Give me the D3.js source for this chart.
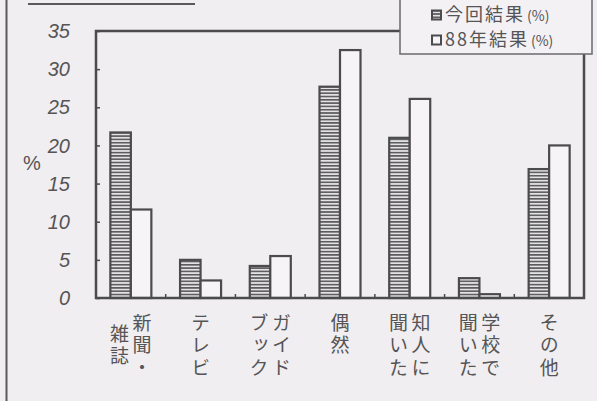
<!DOCTYPE html>
<html lang="ja">
<head>
<meta charset="utf-8">
<script src="https://cdn.jsdelivr.net/npm/d3@7"></script>
<style>
  html, body { margin: 0; padding: 0; background: #f0eef0; }
  svg { display: block; }
</style>
</head>
<body>
<svg id="chart" width="597" height="401"></svg>
<script>
// Category labels: each entry is a list of vertical columns, read right to left
const categories = ["新聞・雑誌", "テレビ", "ガイドブック", "偶然", "知人に聞いた", "学校で聞いた", "その他"];
const categoryColumns = [
  ["新聞・", "雑誌"],
  ["テレビ"],
  ["ガイド", "ブック"],
  ["偶然"],
  ["知人に", "聞いた"],
  ["学校で", "聞いた"],
  ["その他"]
];
const seriesNames = ["今回結果", "88年結果"];
const currentValues = [21.7, 5.0, 4.2, 27.7, 21.0, 2.6, 16.9];
const values1988 = [11.6, 2.3, 5.5, 32.5, 26.1, 0.5, 20.0];
const yTicks = [0, 5, 10, 15, 20, 25, 30, 35];

const ink = "#4b4a4c";
const textInk = "#555456";
const bg = "#f0eef0";

const svg = d3.select("#chart");
svg.append("rect").attr("width", 597).attr("height", 401).attr("fill", bg);

// horizontal stripe fill for the current-survey bars
const defs = svg.append("defs");
const pat = defs.append("pattern")
  .attr("id", "stripes")
  .attr("patternUnits", "userSpaceOnUse")
  .attr("width", 6).attr("height", 3.3);
pat.append("rect").attr("width", 6).attr("height", 3.3).attr("fill", "#e4e2e4");
pat.append("rect").attr("y", 0).attr("width", 6).attr("height", 1.6).attr("fill", "#5a595b");

const plot = { left: 96, right: 584, top: 31, bottom: 298 };

const x = d3.scaleBand().domain(categories).range([plot.left, plot.right]).padding(0);
const xs = d3.scaleBand().domain(seriesNames).range([0, x.bandwidth()]).paddingInner(0).paddingOuter(0.7);
const y = d3.scaleLinear().domain([0, 35]).range([plot.bottom, plot.top]);

// page frame line on the left and the clipped title underline
svg.append("line").attr("x1", 6.5).attr("x2", 6.5).attr("y1", 0).attr("y2", 401)
  .attr("stroke", "#5a595b").attr("stroke-width", 2);
svg.append("line").attr("x1", 28).attr("x2", 195).attr("y1", 4).attr("y2", 4)
  .attr("stroke", "#5a595b").attr("stroke-width", 2);

// bars
const rows = categories.map((c, i) => ({ cat: c, v: [currentValues[i], values1988[i]] }));
const g = svg.append("g");
rows.forEach(r => {
  seriesNames.forEach((s, j) => {
    g.append("rect")
      .attr("x", x(r.cat) + xs(s))
      .attr("y", y(r.v[j]))
      .attr("width", xs.bandwidth())
      .attr("height", y(0) - y(r.v[j]))
      .attr("fill", j === 0 ? "url(#stripes)" : "#f6f4f6")
      .attr("stroke", ink)
      .attr("stroke-width", 2.2);
  });
});

// plot frame
svg.append("rect")
  .attr("x", plot.left).attr("y", plot.top)
  .attr("width", plot.right - plot.left).attr("height", plot.bottom - plot.top)
  .attr("fill", "none").attr("stroke", ink).attr("stroke-width", 2.5);

// inner ticks: y ticks on the left edge, category separators on the bottom edge
const yAxis = d3.axisLeft(y).tickValues(yTicks).tickSize(-4).tickFormat("");
const ya = svg.append("g").attr("transform", `translate(${plot.left},0)`).call(yAxis);
ya.select(".domain").remove();
ya.selectAll("line").attr("stroke", ink).attr("stroke-width", 1.5);

const bounds = categories.slice(1).map(c => x(c));
svg.append("g").selectAll("line").data(bounds).join("line")
  .attr("x1", d => d).attr("x2", d => d)
  .attr("y1", plot.bottom).attr("y2", plot.bottom - 4)
  .attr("stroke", ink).attr("stroke-width", 1.5);

// y tick labels
svg.append("g").selectAll("text").data(yTicks).join("text")
  .attr("x", 70).attr("y", d => y(d))
  .attr("dy", "0.36em")
  .attr("text-anchor", "end")
  .attr("font-family", "Liberation Sans, Arial, sans-serif")
  .attr("font-style", "italic")
  .attr("font-size", 20)
  .attr("fill", textInk)
  .text(d => d);

svg.append("text")
  .attr("x", 32).attr("y", 163).attr("dy", "0.36em")
  .attr("text-anchor", "middle")
  .attr("font-family", "Liberation Sans, Arial, sans-serif")
  .attr("font-size", 20)
  .attr("fill", textInk)
  .text("%");

// vertical category labels, one vertical text run per column
const jpFont = "Noto Sans CJK JP, sans-serif";
const fontSize = 19, pitch = 22.5, colGap = 22.5, firstTop = 313;
categoryColumns.forEach((cols, i) => {
  const cx = x(categories[i]) + x.bandwidth() / 2;
  const longest = d3.max(cols, c => c.length);
  cols.forEach((col, k) => {
    const colX = cx + (cols.length - 1) * colGap / 2 - k * colGap;
    const off = (longest - col.length) * pitch / 2;
    svg.append("text")
      .attr("x", colX).attr("y", firstTop + off)
      .style("writing-mode", "vertical-rl")
      .style("text-orientation", "upright")
      .attr("letter-spacing", pitch - fontSize)
      .attr("font-family", jpFont)
      .attr("font-size", fontSize)
      .attr("fill", textInk)
      .text(col);
  });
});

// legend
const lg = svg.append("g");
lg.append("rect").attr("x", 400).attr("y", -6).attr("width", 192).attr("height", 60)
  .attr("fill", "#f3f1f3").attr("stroke", "#6a696b").attr("stroke-width", 1.5);
const legendRows = [15, 40];
seriesNames.forEach((s, j) => {
  const ly = legendRows[j];
  lg.append("rect").attr("x", 432).attr("y", ly - 4.5).attr("width", 9).attr("height", 9)
    .attr("fill", j === 0 ? "url(#stripes)" : "#f6f4f6")
    .attr("stroke", ink).attr("stroke-width", 2);
  const t = lg.append("text").attr("x", 445).attr("y", ly).attr("dy", "0.36em")
    .attr("font-family", jpFont).attr("fill", textInk);
  t.append("tspan").attr("font-size", 18).attr("letter-spacing", 2).text(s);
  t.append("tspan").attr("font-size", 14).attr("dx", 2).text("(%)");
});
</script>
</body>
</html>
